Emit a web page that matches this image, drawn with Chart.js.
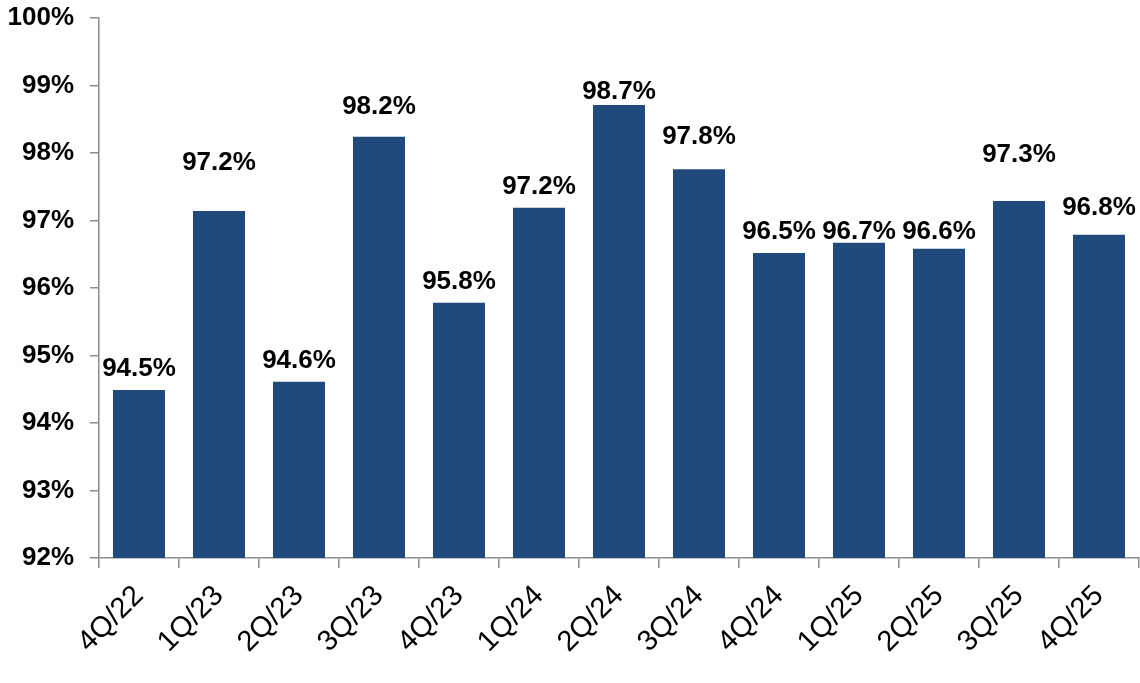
<!DOCTYPE html>
<html>
<head>
<meta charset="utf-8">
<script src="https://cdn.jsdelivr.net/npm/chart.js@4"></script>
<style>
    html, body { margin: 0; padding: 0; background: #fff; }
    #wrap { width: 1140px; height: 683px; }
</style>
</head>
<body>
<div id="wrap"><canvas id="ratioChart"></canvas></div>
<script>
const quarters = ['4Q/22', '1Q/23', '2Q/23', '3Q/23', '4Q/23', '1Q/24', '2Q/24', '3Q/24', '4Q/24', '1Q/25', '2Q/25', '3Q/25', '4Q/25'];
const ratioValues = [94.49, 97.14, 94.61, 98.24, 95.78, 97.19, 98.71, 97.76, 96.52, 96.67, 96.58, 97.29, 96.79];
const ratioLabels = ['94.5%', '97.2%', '94.6%', '98.2%', '95.8%', '97.2%', '98.7%', '97.8%', '96.5%', '96.7%', '96.6%', '97.3%', '96.8%'];
const yTicks = [92, 93, 94, 95, 96, 97, 98, 99, 100];

const FONT = '"Liberation Sans", Arial, sans-serif';
const AXIS_GRAY = '#8c8c8c';

// distance of each value label's centre above its bar (px)
const labelLift = [21, 48, 21, 30, 21, 21, 13, 32, 21, 11, 17, 46, 27];

const barLabels = {
    id: 'barLabels',
    afterDatasetsDraw(chart) {
        const ctx = chart.ctx;
        const meta = chart.getDatasetMeta(0);
        ctx.save();
        ctx.font = 'bold 26px ' + FONT;
        ctx.fillStyle = '#000';
        ctx.textAlign = 'center';
        ctx.textBaseline = 'middle';
        meta.data.forEach((bar, i) => {
            ctx.fillText(ratioLabels[i], bar.x, bar.y - labelLift[i]);
        });
        ctx.restore();
    }
};

const ctx = document.getElementById('ratioChart').getContext('2d');
new Chart(ctx, {
    type: 'bar',
    data: {
        labels: quarters,
        datasets: [{
            data: ratioValues,
            backgroundColor: '#214a7c',
            barPercentage: 0.65,
            categoryPercentage: 1.0
        }]
    },
    options: {
        responsive: true,
        maintainAspectRatio: false,
        animation: { duration: 0 },
        layout: { padding: { top: 18, right: 1, left: 0, bottom: 0 } },
        plugins: {
            legend: { display: false },
            tooltip: { enabled: false }
        },
        scales: {
            x: {
                grid: {
                    drawOnChartArea: false,
                    color: AXIS_GRAY,
                    tickLength: 10,
                    lineWidth: 1.5
                },
                border: { color: AXIS_GRAY, width: 1.5 },
                ticks: {
                    color: '#000',
                    font: { family: FONT, size: 29 },
                    minRotation: 45,
                    maxRotation: 45,
                    padding: 11
                },
                afterFit(scale) {
                    scale.height = 125;
                    scale.paddingLeft = 0;
                    scale.paddingRight = 0;
                }
            },
            y: {
                min: 92,
                max: 100,
                afterBuildTicks(scale) {
                    scale.ticks = yTicks.map(v => ({ value: v }));
                },
                grid: {
                    drawOnChartArea: false,
                    color: AXIS_GRAY,
                    tickLength: 9,
                    lineWidth: 1.5
                },
                border: { color: AXIS_GRAY, width: 1.5 },
                ticks: {
                    color: '#000',
                    font: { family: FONT, size: 26, weight: 'bold' },
                    padding: 16,
                    callback: v => v + '%'
                },
                afterFit(scale) {
                    scale.width = 99;
                    scale.paddingTop = 0;
                    scale.paddingBottom = 0;
                }
            }
        }
    },
    plugins: [barLabels]
});
</script>
</body>
</html>
